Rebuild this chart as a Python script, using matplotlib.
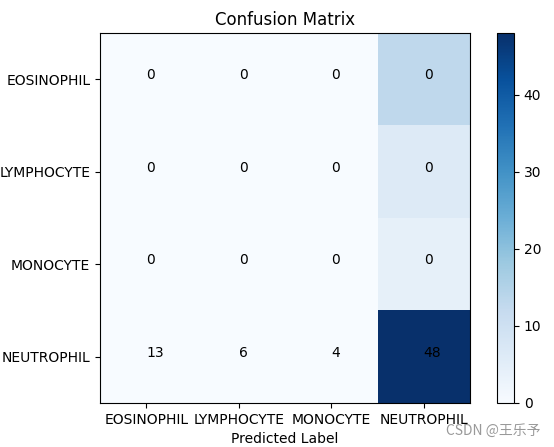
import matplotlib
matplotlib.use("Agg")
import matplotlib.pyplot as plt
import numpy as np

classes = ["EOSINOPHIL", "LYMPHOCYTE", "MONOCYTE", "NEUTROPHIL"]
cm = np.array([[0, 0, 0, 13],
               [0, 0, 0, 6],
               [0, 0, 0, 4],
               [0, 0, 0, 48]])

W, H = 554, 447
fig = plt.figure(figsize=(W / 100, H / 100), dpi=100)
ax = fig.add_axes([100 / W, 44 / H, 370 / W, 370 / H])
cax = fig.add_axes([497 / W, 44 / H, 17 / W, 370 / H])

im = ax.imshow(cm, interpolation="nearest", cmap=plt.cm.Blues, aspect="auto")
cb = fig.colorbar(im, cax=cax)
cb.set_ticks([0, 10, 20, 30, 40])
ax.set_title("Confusion Matrix")
ax.set_xticks(range(len(classes)))
ax.set_xticklabels(classes)
ax.set_yticks(range(len(classes)))
ax.set_yticklabels(classes)
ax.set_xlabel("Predicted Label")

for i in range(cm.shape[0]):
    for j in range(cm.shape[1]):
        ax.text(i, j, str(cm[i, j]), color="black")

fig.text(541 / W, 1 - 431 / H, "CSDN @王乐予", ha="right", va="center",
         fontsize=10, color="#999999",
         family=["Noto Sans CJK SC", "DejaVu Sans"])

fig.savefig("out.png", dpi=100)
